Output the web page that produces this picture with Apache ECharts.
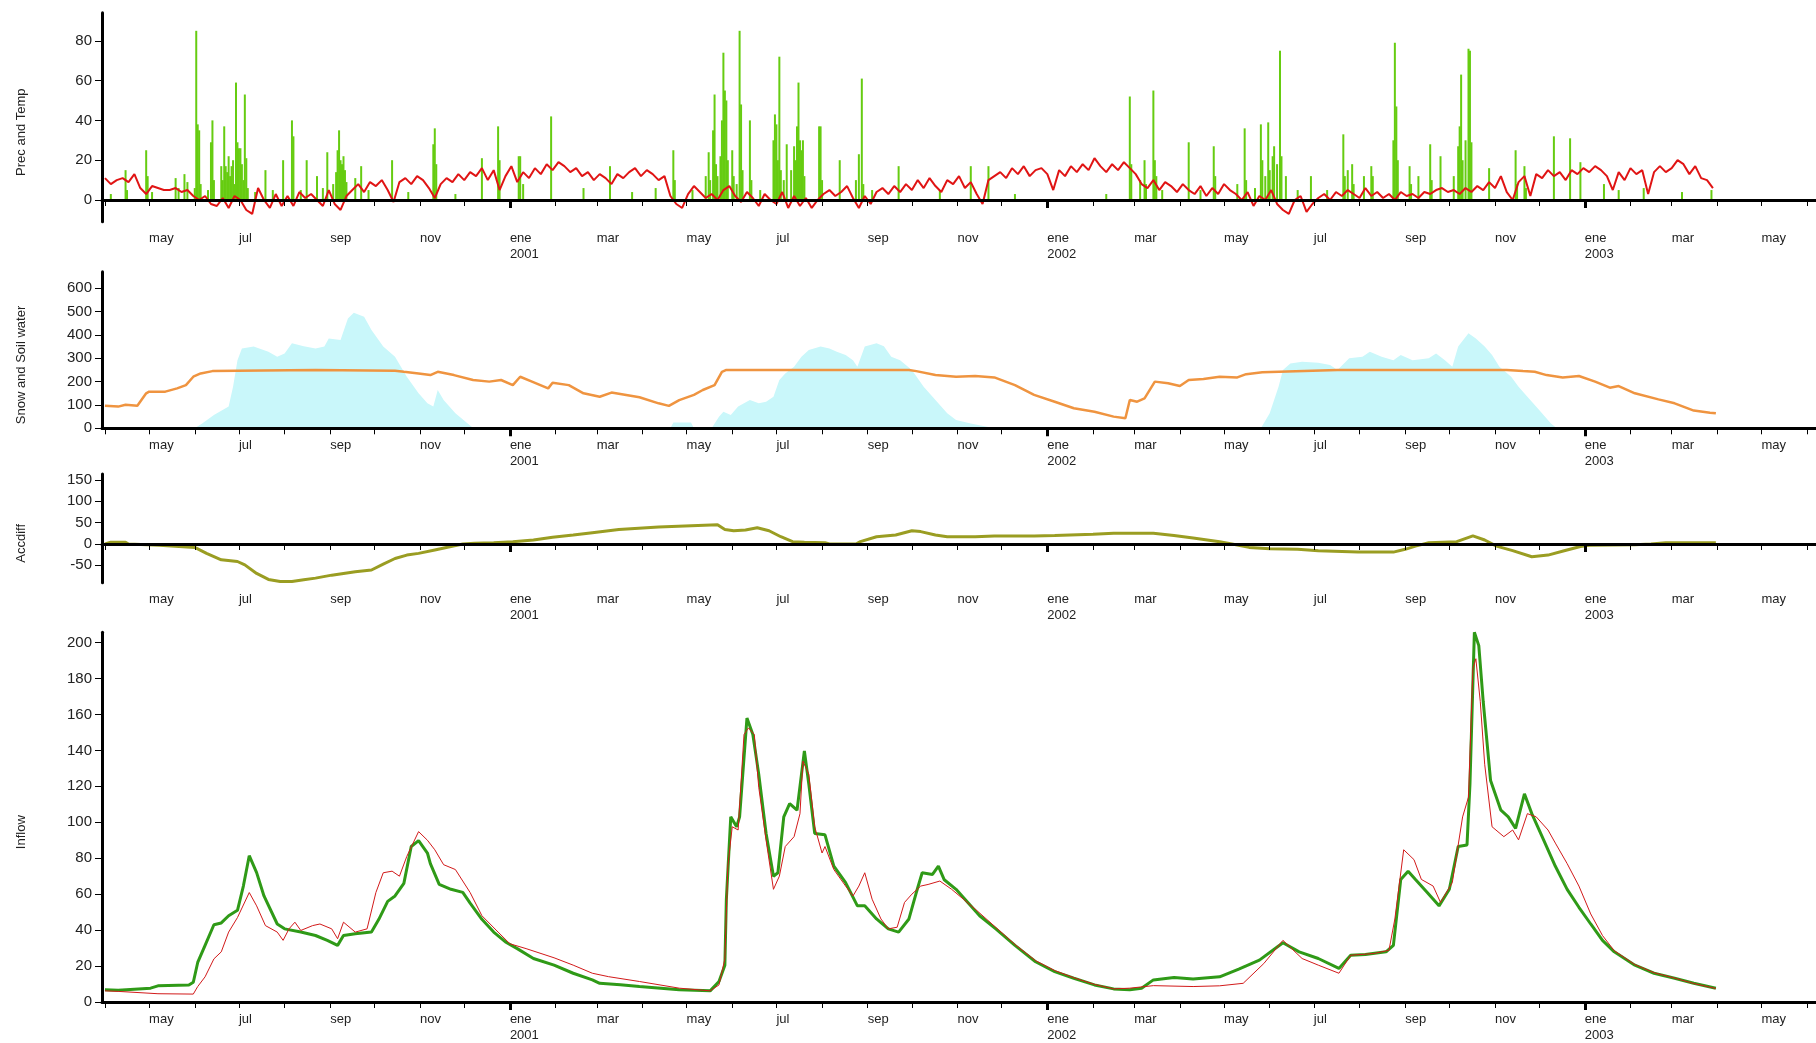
<!DOCTYPE html>
<html>
<head>
<meta charset="utf-8">
<title>Prec, snow, accdiff and inflow</title>
<script src="https://cdn.jsdelivr.net/npm/echarts@6/dist/echarts.min.js"></script>
<style>
  html, body { margin: 0; padding: 0; background: #fff; }
  #main { width: 1816px; height: 1043px; }
</style>
</head>
<body>
<div id="main"></div>
<script>
// ---- data ----
var monthNames = ['ene', 'feb', 'mar', 'abr', 'may', 'jun', 'jul', 'ago', 'sep', 'oct', 'nov', 'dic'];
var panelNames = ['Prec and Temp', 'Snow and Soil water', 'Accdiff', 'Inflow'];

// daily rain spikes (mm)
var rain = [
  ['2000-04-05', 3], ['2000-04-15', 15], ['2000-04-16', 5], ['2000-04-29', 25], ['2000-04-30', 12],
  ['2000-05-03', 4], ['2000-05-19', 11], ['2000-05-21', 6], ['2000-05-25', 13], ['2000-05-27', 9],
  ['2000-06-01', 6], ['2000-06-02', 85], ['2000-06-03', 38], ['2000-06-04', 35], ['2000-06-05', 8],
  ['2000-06-10', 5], ['2000-06-12', 29], ['2000-06-13', 40], ['2000-06-14', 10], ['2000-06-19', 17],
  ['2000-06-20', 10], ['2000-06-21', 37], ['2000-06-22', 17], ['2000-06-23', 14], ['2000-06-24', 22],
  ['2000-06-25', 12], ['2000-06-26', 17], ['2000-06-27', 20], ['2000-06-28', 8], ['2000-06-29', 59],
  ['2000-06-30', 29], ['2000-07-01', 26], ['2000-07-02', 26], ['2000-07-03', 18], ['2000-07-04', 10],
  ['2000-07-05', 53], ['2000-07-06', 21], ['2000-07-07', 6], ['2000-07-12', 4], ['2000-07-19', 15],
  ['2000-07-24', 5], ['2000-07-31', 20], ['2000-08-06', 40], ['2000-08-07', 32], ['2000-08-12', 5],
  ['2000-08-16', 20], ['2000-08-23', 12], ['2000-08-27', 6], ['2000-08-30', 24], ['2000-09-03', 8],
  ['2000-09-05', 14], ['2000-09-06', 25], ['2000-09-07', 35], ['2000-09-08', 20], ['2000-09-09', 18],
  ['2000-09-10', 22], ['2000-09-11', 15], ['2000-09-12', 9], ['2000-09-18', 11], ['2000-09-22', 17],
  ['2000-09-27', 5], ['2000-10-13', 20], ['2000-10-24', 4], ['2000-11-10', 28], ['2000-11-11', 36],
  ['2000-11-12', 18], ['2000-11-25', 3], ['2000-12-13', 21], ['2000-12-24', 37], ['2000-12-25', 20],
  ['2001-01-07', 22], ['2001-01-08', 22], ['2001-01-10', 8], ['2001-01-29', 42], ['2001-02-20', 6],
  ['2001-03-10', 17], ['2001-03-25', 4], ['2001-04-10', 6], ['2001-04-22', 25], ['2001-04-23', 10],
  ['2001-05-05', 5], ['2001-05-14', 12], ['2001-05-16', 24], ['2001-05-17', 10], ['2001-05-19', 35],
  ['2001-05-20', 53], ['2001-05-21', 18], ['2001-05-22', 12], ['2001-05-24', 22], ['2001-05-25', 40],
  ['2001-05-26', 74], ['2001-05-27', 55], ['2001-05-28', 50], ['2001-05-29', 20], ['2001-06-01', 25],
  ['2001-06-02', 12], ['2001-06-04', 8], ['2001-06-06', 85], ['2001-06-07', 48], ['2001-06-08', 15],
  ['2001-06-13', 40], ['2001-06-14', 10], ['2001-06-20', 5], ['2001-06-29', 30], ['2001-06-30', 43],
  ['2001-07-01', 38], ['2001-07-02', 20], ['2001-07-03', 72], ['2001-07-04', 15], ['2001-07-06', 10],
  ['2001-07-08', 28], ['2001-07-11', 15], ['2001-07-13', 27], ['2001-07-14', 20], ['2001-07-15', 37],
  ['2001-07-16', 59], ['2001-07-17', 30], ['2001-07-18', 25], ['2001-07-19', 30], ['2001-07-20', 12],
  ['2001-07-30', 37], ['2001-07-31', 37], ['2001-08-01', 10], ['2001-08-13', 20], ['2001-08-24', 10],
  ['2001-08-26', 23], ['2001-08-28', 61], ['2001-08-29', 8], ['2001-09-04', 5], ['2001-09-22', 17],
  ['2001-10-20', 5], ['2001-11-10', 17], ['2001-11-22', 17], ['2001-12-10', 3], ['2002-02-10', 3],
  ['2002-02-26', 52], ['2002-02-27', 18], ['2002-03-05', 10], ['2002-03-08', 20], ['2002-03-09', 8],
  ['2002-03-14', 55], ['2002-03-15', 20], ['2002-03-16', 12], ['2002-03-20', 5], ['2002-04-07', 29],
  ['2002-04-15', 5], ['2002-04-24', 27], ['2002-04-25', 12], ['2002-05-10', 8], ['2002-05-15', 36],
  ['2002-05-16', 10], ['2002-05-22', 6], ['2002-05-26', 38], ['2002-05-27', 20], ['2002-05-29', 12],
  ['2002-05-31', 39], ['2002-06-01', 15], ['2002-06-03', 22], ['2002-06-04', 27], ['2002-06-06', 18],
  ['2002-06-08', 75], ['2002-06-09', 22], ['2002-06-12', 12], ['2002-06-20', 5], ['2002-06-29', 12],
  ['2002-07-10', 5], ['2002-07-21', 33], ['2002-07-22', 12], ['2002-07-24', 15], ['2002-07-27', 18],
  ['2002-07-28', 8], ['2002-08-04', 12], ['2002-08-09', 17], ['2002-08-10', 12], ['2002-08-24', 30],
  ['2002-08-25', 79], ['2002-08-26', 47], ['2002-08-27', 20], ['2002-09-04', 17], ['2002-09-05', 8],
  ['2002-09-10', 12], ['2002-09-18', 28], ['2002-09-19', 10], ['2002-09-25', 22], ['2002-10-04', 12],
  ['2002-10-07', 27], ['2002-10-08', 37], ['2002-10-09', 63], ['2002-10-10', 20], ['2002-10-12', 30],
  ['2002-10-14', 76], ['2002-10-15', 75], ['2002-10-16', 29], ['2002-10-28', 16], ['2002-11-15', 25],
  ['2002-11-16', 8], ['2002-11-21', 17], ['2002-11-22', 6], ['2002-12-11', 32], ['2002-12-22', 31],
  ['2002-12-29', 19], ['2003-01-14', 8], ['2003-01-24', 5], ['2003-02-10', 6], ['2003-03-08', 4],
  ['2003-03-28', 5]
];

// temperature, one reading every 4 days from 2000-04-01
var tempStart = '2000-04-01';
var tempStepDays = 4;
var tempValues = [
  11, 8, 10, 11, 9, 13, 6, 3,      7, 6, 5, 5, 6, 4, 5, 2,
  0, 2, -2, -3, 1, -4, 2, 0,       -5, -7, 6, 0, -4, 3, -3, 2,
  -3, 4, 1, 3, 0, -3, 5, -2,       -5, 2, 5, 8, 4, 9, 7, 10,
  5, -1, 9, 11, 8, 12, 10, 6,      1, 8, 11, 9, 13, 10, 14, 12,
  16, 10, 15, 5, 12, 17, 9, 14,    11, 16, 13, 18, 15, 19, 17, 14,
  16, 12, 14, 10, 13, 11, 8, 13,   11, 14, 16, 12, 15, 13, 10, 12,
  2, -2, -4, 3, 7, 4, 1, 3,        0, 5, 7, 2, -1, 4, 1, -3,
  3, 0, -2, 4, -4, 2, -3, 1,       -4, 0, 3, 5, 2, 4, 7, 1,
  -4, 2, -2, 4, 6, 3, 7, 4,        8, 5, 10, 6, 11, 7, 4, 10,
  8, 12, 6, 9, 3, -2, 10, 12,      14, 11, 16, 13, 17, 12, 15, 16,
  13, 5, 15, 12, 17, 14, 18, 15,   21, 17, 14, 18, 15, 19, 16, 13,
  8, 6, 10, 5, 9, 7, 4, 8,         5, 3, 7, 2, 6, 3, 8, 5,
  3, 0, 4, -3, 2, 0, 5, -2,        -5, -7, 0, 2, -6, -2, 1, 3,
  0, 4, 2, 5, 3, 1, 6, 2,          4, 1, 3, 0, 4, 2, 3, 1,
  4, 3, 5, 6, 4, 5, 3, 6,          4, 7, 5, 9, 6, 12, 4, 0,
  9, 12, 2, 13, 11, 15, 12, 14,    10, 15, 13, 16, 14, 17, 15, 12,
  5, 14, 10, 16, 13, 15, 3, 14,    17, 14, 16, 20, 18, 13, 17, 11,
  10, 6
];

// snow water (area)
var snow = [
  ['2000-05-31', 0], ['2000-06-02', 5], ['2000-06-06', 21], ['2000-06-14', 57], ['2000-06-24', 93],
  ['2000-06-27', 178], ['2000-06-30', 292], ['2000-07-03', 342], ['2000-07-11', 350], ['2000-07-21', 328],
  ['2000-07-27', 307], ['2000-08-01', 321], ['2000-08-06', 364], ['2000-08-14', 352], ['2000-08-22', 342],
  ['2000-08-28', 350], ['2000-08-31', 385], ['2000-09-08', 378], ['2000-09-13', 471], ['2000-09-17', 495],
  ['2000-09-24', 478], ['2000-09-29', 421], ['2000-10-07', 350], ['2000-10-15', 307], ['2000-10-23', 221],
  ['2000-10-31', 150], ['2000-11-06', 107], ['2000-11-10', 93], ['2000-11-13', 164], ['2000-11-17', 121],
  ['2000-11-25', 64], ['2000-12-06', 7], ['2000-12-09', 0],
  ['2001-04-20', 0], ['2001-04-22', 25], ['2001-05-04', 25], ['2001-05-06', 0], ['2001-05-18', 0],
  ['2001-05-23', 50], ['2001-05-26', 71], ['2001-05-31', 57], ['2001-06-05', 93], ['2001-06-13', 121],
  ['2001-06-19', 107], ['2001-06-24', 114], ['2001-06-29', 135], ['2001-07-03', 207], ['2001-07-07', 235],
  ['2001-07-13', 264], ['2001-07-18', 307], ['2001-07-23', 335], ['2001-07-31', 350], ['2001-08-06', 342],
  ['2001-08-11', 328], ['2001-08-17', 314], ['2001-08-22', 292], ['2001-08-25', 264], ['2001-08-30', 350],
  ['2001-09-07', 364], ['2001-09-12', 352], ['2001-09-17', 307], ['2001-09-23', 292], ['2001-10-01', 250],
  ['2001-10-09', 178], ['2001-10-17', 121], ['2001-10-25', 64], ['2001-10-31', 36], ['2001-11-10', 21],
  ['2001-11-21', 7], ['2001-11-26', 0],
  ['2002-05-26', 0], ['2002-06-01', 64], ['2002-06-07', 178], ['2002-06-10', 250], ['2002-06-15', 278],
  ['2002-06-23', 285], ['2002-07-04', 281], ['2002-07-12', 271], ['2002-07-17', 250], ['2002-07-25', 300],
  ['2002-08-03', 307], ['2002-08-08', 328], ['2002-08-16', 307], ['2002-08-24', 292], ['2002-08-29', 314],
  ['2002-09-06', 292], ['2002-09-17', 300], ['2002-09-22', 321], ['2002-09-28', 292], ['2002-10-03', 264],
  ['2002-10-07', 350], ['2002-10-14', 407], ['2002-10-19', 385], ['2002-10-25', 350], ['2002-10-30', 314],
  ['2002-11-04', 264], ['2002-11-12', 221], ['2002-11-17', 178], ['2002-11-23', 135], ['2002-12-01', 78],
  ['2002-12-09', 21], ['2002-12-13', 0]
];

// soil water (line)
var soil = [
  ['2000-04-01', 97], ['2000-04-10', 93], ['2000-04-15', 101], ['2000-04-23', 97], ['2000-04-29', 150],
  ['2000-05-01', 157], ['2000-05-12', 157], ['2000-05-20', 171], ['2000-05-26', 185], ['2000-05-31', 221],
  ['2000-06-05', 235], ['2000-06-13', 245], ['2000-06-30', 247], ['2000-08-22', 250], ['2000-10-15', 247],
  ['2000-10-21', 242], ['2000-10-31', 235], ['2000-11-08', 228], ['2000-11-13', 242], ['2000-11-24', 228],
  ['2000-12-07', 207], ['2000-12-18', 200], ['2000-12-26', 207], ['2001-01-03', 185], ['2001-01-08', 221],
  ['2001-01-16', 200], ['2001-01-27', 171], ['2001-01-30', 195], ['2001-02-10', 185], ['2001-02-20', 150],
  ['2001-03-03', 135], ['2001-03-11', 153], ['2001-03-19', 145], ['2001-03-30', 133], ['2001-04-12', 107],
  ['2001-04-19', 96], ['2001-04-26', 121], ['2001-05-06', 143], ['2001-05-12', 164], ['2001-05-20', 185],
  ['2001-05-25', 242], ['2001-05-28', 250], ['2001-09-29', 250], ['2001-10-04', 245], ['2001-10-17', 228],
  ['2001-10-31', 221], ['2001-11-13', 224], ['2001-11-26', 218], ['2001-12-10', 185], ['2001-12-23', 143],
  ['2002-01-06', 114], ['2002-01-19', 86], ['2002-02-02', 71], ['2002-02-15', 50], ['2002-02-23', 43],
  ['2002-02-26', 121], ['2002-03-03', 114], ['2002-03-08', 128], ['2002-03-15', 200], ['2002-03-24', 193],
  ['2002-04-01', 181], ['2002-04-07', 207], ['2002-04-17', 211], ['2002-04-28', 221], ['2002-05-10', 218],
  ['2002-05-16', 232], ['2002-05-27', 240], ['2002-07-17', 250], ['2002-11-09', 250], ['2002-11-20', 245],
  ['2002-11-28', 242], ['2002-12-06', 228], ['2002-12-17', 218], ['2002-12-28', 224], ['2003-01-08', 200],
  ['2003-01-18', 174], ['2003-01-24', 181], ['2003-02-04', 150], ['2003-02-20', 124], ['2003-03-03', 107],
  ['2003-03-16', 76], ['2003-03-27', 67], ['2003-03-31', 64]
];

// accumulated difference
var accdiff = [
  ['2000-04-01', 0], ['2000-04-05', 4], ['2000-04-15', 4], ['2000-04-17', 0], ['2000-05-08', -3],
  ['2000-06-01', -8], ['2000-06-09', -22], ['2000-06-19', -37], ['2000-06-30', -41], ['2000-07-05', -49],
  ['2000-07-13', -69], ['2000-07-21', -83], ['2000-07-29', -88], ['2000-08-06', -88], ['2000-08-14', -84],
  ['2000-08-22', -80], ['2000-09-02', -73], ['2000-09-10', -69], ['2000-09-18', -65], ['2000-09-29', -61],
  ['2000-10-07', -47], ['2000-10-15', -34], ['2000-10-23', -26], ['2000-10-31', -22], ['2000-11-11', -14],
  ['2000-11-22', -6], ['2000-11-30', 0], ['2000-12-08', 1.6], ['2000-12-21', 3], ['2001-01-03', 5.5],
  ['2001-01-17', 9.4], ['2001-01-30', 15.6], ['2001-02-13', 21], ['2001-02-26', 26.6], ['2001-03-16', 34],
  ['2001-04-12', 40], ['2001-05-22', 45], ['2001-05-27', 34], ['2001-06-02', 31], ['2001-06-10', 33],
  ['2001-06-18', 38], ['2001-06-26', 31], ['2001-07-04', 17], ['2001-07-12', 5.5], ['2001-07-20', 4],
  ['2001-08-03', 3], ['2001-08-06', 0], ['2001-08-24', 0], ['2001-08-27', 5.5], ['2001-09-07', 17],
  ['2001-09-20', 21], ['2001-10-01', 31], ['2001-10-07', 29], ['2001-10-17', 21], ['2001-10-25', 17],
  ['2001-11-13', 17], ['2001-11-26', 19], ['2001-12-23', 19], ['2002-01-06', 20], ['2002-02-01', 23],
  ['2002-02-15', 25], ['2002-03-14', 25], ['2002-03-28', 20], ['2002-04-10', 14], ['2002-04-28', 5.5],
  ['2002-05-10', -2.3], ['2002-05-18', -8], ['2002-06-01', -11], ['2002-06-20', -12.5], ['2002-07-04', -15.6],
  ['2002-07-31', -19], ['2002-08-24', -19], ['2002-09-01', -12.5], ['2002-09-08', -5], ['2002-09-17', 3],
  ['2002-10-06', 5.5], ['2002-10-17', 19], ['2002-10-25', 9.4], ['2002-11-02', -5], ['2002-11-13', -15.6],
  ['2002-11-26', -30], ['2002-12-07', -26], ['2002-12-18', -16], ['2002-12-29', -6], ['2003-01-04', -3],
  ['2003-02-04', -2], ['2003-02-15', 0], ['2003-02-25', 3], ['2003-03-31', 3]
];

// inflow, observed (thick green)
var inflowObs = [
  ['2000-04-01', 6.8], ['2000-04-10', 6.5], ['2000-05-02', 7.7], ['2000-05-07', 9], ['2000-05-28', 9.5],
  ['2000-05-31', 11], ['2000-06-03', 22], ['2000-06-08', 31.5], ['2000-06-14', 43], ['2000-06-19', 44],
  ['2000-06-24', 48], ['2000-06-30', 51], ['2000-07-04', 64.5], ['2000-07-08', 81.4], ['2000-07-13', 72],
  ['2000-07-18', 59], ['2000-07-27', 43.4], ['2000-08-01', 40.7], ['2000-08-12', 38.9], ['2000-08-22', 37],
  ['2000-08-30', 34.3], ['2000-09-06', 31.5], ['2000-09-10', 37], ['2000-09-18', 38], ['2000-09-29', 38.9],
  ['2000-10-04', 46], ['2000-10-10', 56], ['2000-10-15', 59], ['2000-10-21', 66], ['2000-10-26', 86.5],
  ['2000-10-31', 89.8], ['2000-11-06', 82.9], ['2000-11-08', 77], ['2000-11-14', 65.4], ['2000-11-22', 62.7],
  ['2000-11-30', 61], ['2000-12-05', 55], ['2000-12-13', 46], ['2000-12-21', 38.9], ['2000-12-29', 33.4],
  ['2001-01-06', 29.7], ['2001-01-17', 24.2], ['2001-01-31', 20.5], ['2001-02-13', 16], ['2001-02-26', 12.3],
  ['2001-03-03', 10.4], ['2001-03-17', 9.6], ['2001-03-30', 8.6], ['2001-04-26', 6.8], ['2001-05-17', 6.2],
  ['2001-05-23', 11.4], ['2001-05-27', 20.5], ['2001-05-28', 57], ['2001-05-31', 103], ['2001-06-04', 97.5],
  ['2001-06-06', 103], ['2001-06-11', 158], ['2001-06-15', 148.8], ['2001-06-19', 126.8], ['2001-06-24', 93.8],
  ['2001-06-29', 70], ['2001-07-02', 71.9], ['2001-07-06', 103], ['2001-07-10', 110.4], ['2001-07-15', 106.7],
  ['2001-07-20', 139.7], ['2001-07-23', 121.3], ['2001-07-27', 93.8], ['2001-08-03', 93], ['2001-08-09', 75.6],
  ['2001-08-17', 66.4], ['2001-08-25', 53.5], ['2001-08-30', 53.5], ['2001-09-07', 46.2], ['2001-09-15', 40.7],
  ['2001-09-22', 38.9], ['2001-09-29', 46.2], ['2001-10-04', 60.9], ['2001-10-08', 71.9], ['2001-10-15', 71],
  ['2001-10-19', 75.6], ['2001-10-23', 68], ['2001-10-31', 62.7], ['2001-11-08', 55.4], ['2001-11-16', 48],
  ['2001-11-27', 40.7], ['2001-12-10', 31.5], ['2001-12-24', 22.4], ['2002-01-06', 16.9], ['2002-01-19', 13.2],
  ['2002-02-02', 9.5], ['2002-02-15', 7.3], ['2002-02-26', 6.8], ['2002-03-06', 7.7], ['2002-03-14', 12.3],
  ['2002-03-28', 13.6], ['2002-04-10', 12.8], ['2002-04-28', 14], ['2002-05-11', 18.3], ['2002-05-25', 23.3],
  ['2002-06-10', 33], ['2002-06-21', 27.9], ['2002-07-04', 24.2], ['2002-07-18', 18.7], ['2002-07-26', 26],
  ['2002-08-05', 26.4], ['2002-08-19', 27.9], ['2002-08-24', 31.5], ['2002-08-29', 68.2], ['2002-09-03', 72.8],
  ['2002-09-08', 68.2], ['2002-09-16', 60.9], ['2002-09-24', 53.5], ['2002-10-01', 62.7], ['2002-10-07', 86.5],
  ['2002-10-13', 87.4], ['2002-10-15', 121.3], ['2002-10-18', 205.7], ['2002-10-21', 198.3], ['2002-10-24', 167.2],
  ['2002-10-29', 123.2], ['2002-11-05', 106.7], ['2002-11-10', 103], ['2002-11-15', 96.6], ['2002-11-21', 115.8],
  ['2002-11-26', 104.8], ['2002-12-04', 90.2], ['2002-12-12', 75.5], ['2002-12-20', 62.7], ['2002-12-28', 52.7],
  ['2003-01-05', 43.4], ['2003-01-13', 34.3], ['2003-01-21', 27.9], ['2003-02-04', 20.5], ['2003-02-17', 16],
  ['2003-03-03', 13.2], ['2003-03-16', 10.4], ['2003-03-31', 7.7]
];

// inflow, simulated (thin red)
var inflowSim = [
  ['2000-04-01', 6.2], ['2000-04-10', 5.9], ['2000-05-07', 4.6], ['2000-05-31', 4.4], ['2000-06-03', 8.6],
  ['2000-06-08', 14], ['2000-06-14', 24], ['2000-06-19', 27.9], ['2000-06-24', 38.9], ['2000-06-30', 47],
  ['2000-07-08', 60.9], ['2000-07-13', 53.5], ['2000-07-19', 42.5], ['2000-07-27', 38.9], ['2000-07-31', 34.3],
  ['2000-08-04', 40.7], ['2000-08-08', 44.4], ['2000-08-12', 39.8], ['2000-08-20', 42.5], ['2000-08-25', 43.4],
  ['2000-09-02', 40.7], ['2000-09-06', 35.2], ['2000-09-10', 44.4], ['2000-09-18', 38.9], ['2000-09-26', 40.7],
  ['2000-10-02', 60.9], ['2000-10-07', 71.9], ['2000-10-13', 72.8], ['2000-10-18', 70], ['2000-10-23', 81],
  ['2000-10-31', 94.8], ['2000-11-06', 90], ['2000-11-11', 84.7], ['2000-11-17', 76.4], ['2000-11-25', 73.7],
  ['2000-12-05', 60.9], ['2000-12-13', 48], ['2000-12-24', 38.9], ['2001-01-01', 32.4], ['2001-01-12', 29.7],
  ['2001-01-31', 24.6], ['2001-02-13', 20.5], ['2001-02-26', 16], ['2001-03-09', 14.1], ['2001-03-30', 11.4],
  ['2001-04-26', 7.7], ['2001-05-17', 6.2], ['2001-05-23', 9.5], ['2001-05-27', 24], ['2001-05-29', 75.5],
  ['2001-06-01', 97.5], ['2001-06-05', 95.7], ['2001-06-09', 148.8], ['2001-06-12', 152.5], ['2001-06-16', 148.8],
  ['2001-06-19', 119.5], ['2001-06-24', 90], ['2001-06-29', 62.7], ['2001-07-03', 70], ['2001-07-07', 86.5],
  ['2001-07-13', 92], ['2001-07-17', 104.8], ['2001-07-19', 134], ['2001-07-23', 126.8], ['2001-07-27', 97.5],
  ['2001-08-01', 82.9], ['2001-08-03', 86.5], ['2001-08-09', 73.7], ['2001-08-17', 64.5], ['2001-08-22', 59],
  ['2001-08-26', 64.5], ['2001-08-30', 71.9], ['2001-09-04', 57.2], ['2001-09-10', 46.2], ['2001-09-15', 40.7],
  ['2001-09-21', 41.6], ['2001-09-26', 55.4], ['2001-10-01', 60], ['2001-10-07', 64.5], ['2001-10-12', 65.4],
  ['2001-10-20', 67.3], ['2001-10-28', 62.7], ['2001-11-05', 57.2], ['2001-11-13', 51.7], ['2001-11-27', 41.5],
  ['2001-12-10', 32], ['2001-12-24', 23], ['2002-01-06', 17.5], ['2002-01-19', 13.5], ['2002-02-02', 9.8],
  ['2002-02-15', 7.3], ['2002-02-26', 7.7], ['2002-03-14', 9.1], ['2002-04-10', 8.6], ['2002-04-28', 9],
  ['2002-05-14', 10.4], ['2002-05-28', 21.4], ['2002-06-10', 34.3], ['2002-06-23', 24.2], ['2002-07-04', 20.5],
  ['2002-07-18', 16], ['2002-07-26', 26], ['2002-08-11', 27], ['2002-08-21', 28.8], ['2002-08-25', 46.2],
  ['2002-08-31', 84.7], ['2002-09-07', 79.2], ['2002-09-12', 68.2], ['2002-09-20', 64.5], ['2002-09-25', 55.4],
  ['2002-10-03', 66.4], ['2002-10-10', 103], ['2002-10-14', 114], ['2002-10-17', 185.5], ['2002-10-19', 191],
  ['2002-10-22', 167.2], ['2002-10-25', 132.3], ['2002-10-30', 97.5], ['2002-11-07', 92], ['2002-11-13', 95.7],
  ['2002-11-17', 90.2], ['2002-11-23', 104.8], ['2002-11-29', 103], ['2002-12-07', 95.7], ['2002-12-12', 88.4],
  ['2002-12-20', 77], ['2002-12-28', 64.5], ['2003-01-05', 49], ['2003-01-13', 37], ['2003-01-21', 28.5],
  ['2003-02-04', 20.8], ['2003-02-17', 16.3], ['2003-03-03', 13.3], ['2003-03-16', 10.3], ['2003-03-31', 7.5]
];

// ---- helpers ----
var DAY = 86400000;
function dayString(t) { return new Date(t).toISOString().slice(0, 10); }

var days = [];
for (var t = Date.UTC(2000, 2, 30); t <= Date.UTC(2003, 5, 7); t += DAY) days.push(dayString(t));

var tempT0 = Date.parse(tempStart + 'T00:00:00Z');
var temp = tempValues.map(function (v, i) { return [dayString(tempT0 + i * tempStepDays * DAY), v]; });

var font = 'Liberation Sans, Arial, sans-serif';

function isMonthStart(i, v) { return v.slice(8) === '01'; }
function isYearStart(i, v) { return v.slice(5) === '01-01'; }
function isLabelDay(i, v) { return v.slice(8) === '01' && (+v.slice(5, 7)) % 2 === 1; }
function monthLabel(v) {
  var m = +v.slice(5, 7);
  return monthNames[m - 1] + (m === 1 ? '\n' + v.slice(0, 4) : '');
}

// grid boxes and y ranges per panel
var grids = [
  { top: 12.7, height: 209, min: -10.9, max: 94.1, ticks: [0, 20, 40, 60, 80] },
  { top: 271.7, height: 156.6, min: 0, max: 671, ticks: [0, 100, 200, 300, 400, 500, 600] },
  { top: 474, height: 108.7, min: -90.7, max: 164, ticks: [-50, 0, 50, 100, 150] },
  { top: 632.3, height: 371.7, min: 0, max: 205.7, ticks: [0, 20, 40, 60, 80, 100, 120, 140, 160, 180, 200] }
];

var gridOpts = [], xAxes = [], yAxes = [];
grids.forEach(function (g, k) {
  gridOpts.push({ left: 102, right: 0, top: g.top, height: g.height });
  var zeroOffset = -(0 - g.min) / (g.max - g.min) * g.height;
  // axis line + monthly ticks sitting on zero
  xAxes.push({
    type: 'category', gridIndex: k, data: days, boundaryGap: false, z: 5,
    axisLine: { show: true, onZero: true, lineStyle: { color: '#000', width: 3 } },
    axisTick: { show: true, interval: isMonthStart, length: 6, lineStyle: { color: '#000', width: 1 } },
    axisLabel: { show: false }, splitLine: { show: false }
  });
  // bolder year ticks
  xAxes.push({
    type: 'category', gridIndex: k, data: days, boundaryGap: false, position: 'bottom',
    offset: zeroOffset, z: 5,
    axisLine: { show: false, onZero: false },
    axisTick: { show: true, interval: isYearStart, length: 8, lineStyle: { color: '#000', width: 3 } },
    axisLabel: { show: false }, splitLine: { show: false }
  });
  // month labels under the panel
  xAxes.push({
    type: 'category', gridIndex: k, data: days, boundaryGap: false, position: 'bottom',
    axisLine: { show: false, onZero: false }, axisTick: { show: false },
    axisLabel: {
      interval: isLabelDay, formatter: monthLabel, align: 'left', margin: 9,
      fontFamily: font, fontSize: 13, lineHeight: 16, color: '#222'
    },
    splitLine: { show: false }
  });
  yAxes.push({
    type: 'value', gridIndex: k, min: g.min, max: g.max, z: 5,
    name: panelNames[k], nameLocation: 'middle', nameGap: 74,
    nameTextStyle: { fontFamily: font, fontSize: 13, color: '#222', padding: [0, 30, 0, 0] },
    axisLine: { show: true, onZero: false, lineStyle: { color: '#000', width: 3 } },
    axisTick: { show: true, customValues: g.ticks, length: 7, lineStyle: { color: '#000', width: 1 } },
    axisLabel: { customValues: g.ticks, fontFamily: font, fontSize: 15, color: '#222', margin: 10 },
    splitLine: { show: false }
  });
});

var option = {
  backgroundColor: '#fff',
  animation: false,
  grid: gridOpts,
  xAxis: xAxes,
  yAxis: yAxes,
  series: [
    { name: 'Prec', type: 'bar', xAxisIndex: 0, yAxisIndex: 0, data: rain, barWidth: 2,
      itemStyle: { color: '#66cc11' }, z: 2 },
    { name: 'Temp', type: 'line', xAxisIndex: 0, yAxisIndex: 0, data: temp, showSymbol: false,
      lineStyle: { color: '#e01414', width: 2 }, z: 3 },
    { name: 'Snow', type: 'line', xAxisIndex: 3, yAxisIndex: 1, data: snow, showSymbol: false,
      lineStyle: { width: 0 }, areaStyle: { color: '#c9f7fa', opacity: 1 }, z: 2 },
    { name: 'Soil water', type: 'line', xAxisIndex: 3, yAxisIndex: 1, data: soil, showSymbol: false,
      lineStyle: { color: '#ef9440', width: 2.5 }, z: 3 },
    { name: 'Accdiff', type: 'line', xAxisIndex: 6, yAxisIndex: 2, data: accdiff, showSymbol: false,
      lineStyle: { color: '#9a9d22', width: 3 }, z: 3 },
    { name: 'Observed', type: 'line', xAxisIndex: 9, yAxisIndex: 3, data: inflowObs, showSymbol: false,
      lineStyle: { color: '#2f9a17', width: 3 }, z: 3 },
    { name: 'Simulated', type: 'line', xAxisIndex: 9, yAxisIndex: 3, data: inflowSim, showSymbol: false,
      lineStyle: { color: '#d21a1a', width: 1 }, z: 4 }
  ]
};

var myChart = echarts.init(document.getElementById('main'));
myChart.setOption(option);
</script>
</body>
</html>
